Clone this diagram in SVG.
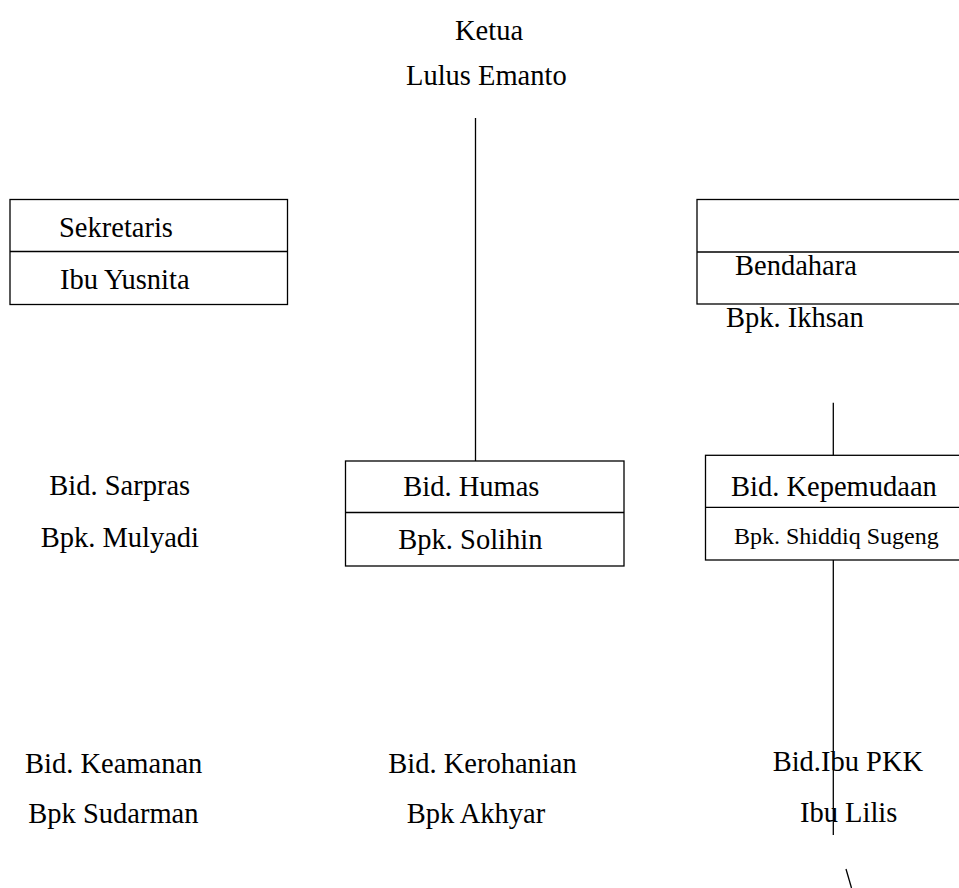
<svg xmlns="http://www.w3.org/2000/svg" width="959" height="888" viewBox="0 0 959 888">
<style>
text{font-family:"Liberation Serif","Times New Roman",serif;font-size:28.5px;fill:#000}
.s{font-size:24px}
.b{fill:#fff;stroke:#000;stroke-width:1.3}
.l{stroke:#000;stroke-width:1.3;fill:none}
</style>
<rect width="959" height="888" fill="#fff"/>
<g id="ketua"><text x="455" y="40">Ketua</text><text x="406" y="85">Lulus Emanto</text></g>
<g id="sekretaris"><rect class="b" x="10" y="199.5" width="277.5" height="105"/><line class="l" x1="10" y1="251.5" x2="287.5" y2="251.5"/><text x="59" y="236.5">Sekretaris</text><text x="60" y="289">Ibu Yusnita</text></g>
<g id="bendahara"><rect class="b" x="697" y="199.5" width="270" height="104.5"/><line class="l" x1="697" y1="252" x2="967" y2="252"/><text x="735" y="275">Bendahara</text><text x="726" y="326.5">Bpk. Ikhsan</text></g>
<g id="humas"><rect class="b" x="345.5" y="461" width="278.5" height="105"/><line class="l" x1="345.5" y1="512.5" x2="624" y2="512.5"/><text x="403.3" y="495.7">Bid. Humas</text><text x="398.3" y="549">Bpk. Solihin</text></g>
<g id="kepemudaan"><rect class="b" x="705.5" y="455.3" width="262" height="104.7"/><line class="l" x1="705.5" y1="507.3" x2="967" y2="507.3"/><text x="731" y="495.7">Bid. Kepemudaan</text><text class="s" x="734" y="544.3">Bpk. Shiddiq Sugeng</text></g>
<g id="sarpras"><text x="49.3" y="495">Bid. Sarpras</text><text x="40.7" y="547.3">Bpk. Mulyadi</text></g>
<g id="keamanan"><text x="25" y="773.3">Bid. Keamanan</text><text x="28.3" y="823.3">Bpk Sudarman</text></g>
<g id="kerohanian"><text x="388.3" y="773">Bid. Kerohanian</text><text x="406.7" y="823">Bpk Akhyar</text></g>
<g id="pkk"><text x="772.7" y="770.7">Bid.Ibu PKK</text><text x="800" y="821.7">Ibu Lilis</text></g>
<g id="connectors">
<line class="l" x1="475.5" y1="118" x2="475.5" y2="461"/>
<line class="l" x1="833.3" y1="402.7" x2="833.3" y2="455.3"/>
<line class="l" x1="833.3" y1="560" x2="833.3" y2="835"/>
<line class="l" x1="846" y1="869" x2="851.5" y2="888"/>
</g>
</svg>
